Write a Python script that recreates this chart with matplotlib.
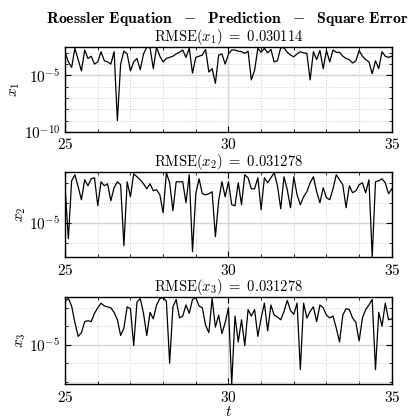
import numpy as np
import matplotlib
matplotlib.use("Agg")
import matplotlib.pyplot as plt
from matplotlib.ticker import FixedLocator, FixedFormatter, NullFormatter

plt.rcParams["font.family"] = "serif"
plt.rcParams["font.serif"] = ["cmr10"]
plt.rcParams["mathtext.fontset"] = "cm"
plt.rcParams["axes.unicode_minus"] = False

# time axis
t = np.linspace(25, 35, 101)

# log10 of the square error
log_err_x1 = [
    -2.95, -3.8, -4.3, -2.6, -3.6, -4.6, -2.75, -3.5, -3.3, -4.0,
    -3.8, -2.9, -3.7, -3.8, -4.0, -2.9, -9.0, -4.0, -2.85, -3.1,
    -4.6, -3.8, -3.5, -4.5, -3.1, -2.5, -2.55, -4.4, -2.5, -3.3,
    -3.8, -3.5, -3.4, -3.3, -3.1, -2.95, -2.75, -3.4, -2.6, -4.8,
    -3.4, -3.3, -3.2, -2.7, -4.7, -4.4, -5.7, -3.2, -3.1, -4.0,
    -3.1, -2.75, -2.75, -2.85, -2.9, -3.05, -2.85, -5.4, -4.55, -2.6,
    -2.95, -2.6, -3.0, -2.7, -3.8, -3.7, -2.55, -2.55, -2.95, -3.2,
    -3.35, -3.1, -2.9, -3.0, -3.05, -5.4, -2.9, -3.6, -2.8, -4.4,
    -2.8, -3.8, -2.75, -2.95, -2.95, -3.3, -3.5, -3.6, -3.9, -3.7,
    -2.8, -3.3, -3.6, -3.8, -4.85, -3.7, -4.4, -2.9, -3.3, -3.4,
    -3.3,
]
log_err_x2 = [
    -3.25, -5.8, -2.9, -2.6, -3.2, -3.85, -2.85, -3.15, -2.8, -2.75,
    -4.15, -2.95, -3.15, -3.05, -3.9, -3.25, -2.95, -3.1, -6.15, -2.95,
    -3.7, -2.55, -2.7, -2.85, -3.05, -3.3, -3.05, -3.4, -3.35, -3.6,
    -4.5, -2.5, -3.0, -4.4, -2.95, -2.95, -2.95, -4.0, -2.6, -6.45,
    -3.55, -2.8, -3.55, -3.6, -3.55, -3.45, -5.7, -3.9, -2.95, -3.7,
    -2.95, -4.1, -4.15, -3.0, -4.1, -2.6, -2.75, -3.3, -3.3, -2.75,
    -4.35, -2.75, -3.0, -2.75, -2.5, -3.15, -4.3, -2.7, -3.35, -4.25,
    -2.7, -3.6, -4.1, -3.7, -3.45, -3.0, -2.7, -3.45, -4.0, -3.25,
    -3.75, -3.85, -3.3, -2.6, -2.85, -3.1, -4.25, -3.15, -3.5, -3.4,
    -3.1, -3.0, -3.5, -2.85, -6.72, -2.95, -2.9, -2.8, -3.0, -3.55,
    -3.3,
]
log_err_x3 = [
    -2.65, -2.5, -2.9, -3.8, -4.55, -4.35, -3.75, -3.7, -3.75, -3.3,
    -3.0, -2.75, -2.9, -2.95, -3.0, -3.25, -3.65, -4.5, -4.1, -2.95,
    -3.05, -5.05, -2.7, -2.5, -3.3, -4.5, -3.25, -3.6, -2.85, -2.5,
    -2.45, -2.65, -6.0, -2.95, -2.55, -3.55, -3.45, -2.85, -3.3, -2.55,
    -2.45, -2.9, -3.0, -3.95, -4.35, -2.5, -4.05, -3.4, -4.4, -3.8,
    -3.0, -7.13, -3.45, -4.85, -3.65, -5.05, -3.1, -3.45, -3.1, -4.55,
    -3.55, -2.75, -4.25, -2.85, -3.4, -3.5, -3.65, -3.2, -2.6, -3.15,
    -3.35, -2.75, -6.35, -2.75, -3.55, -3.2, -2.95, -3.75, -2.85, -3.0,
    -3.4, -3.55, -3.45, -4.1, -4.85, -3.4, -3.05, -3.1, -3.55, -3.8,
    -4.8, -3.55, -3.1, -2.85, -2.55, -6.35, -3.25, -4.0, -2.75, -3.65,
    -3.6,
]

series = [log_err_x1, log_err_x2, log_err_x3]
names = ["x_1", "x_2", "x_3"]
rmse = ["0.030114", "0.031278", "0.031278"]
ylims = [(1e-10, 10 ** -2.45), (10 ** -6.72, 10 ** -2.47), (10 ** -7.13, 10 ** -2.42)]
major_y = [[1e-10, 1e-5], [1e-5], [1e-5]]
major_lbl = [[r"$10^{-10}$", r"$10^{-5}$"], [r"$10^{-5}$"], [r"$10^{-5}$"]]

fig = plt.figure(figsize=(4.12, 4.2), dpi=100)
boxes = [(0.158, 0.686, 0.793, 0.203),
         (0.158, 0.388, 0.793, 0.202),
         (0.158, 0.0857, 0.793, 0.207)]

for k in range(3):
    ax = fig.add_axes(boxes[k])
    ax.plot(t, 10.0 ** np.array(series[k]), color="black", lw=0.9)
    ax.set_yscale("log")
    ax.set_xlim(25, 35)
    ax.set_ylim(*ylims[k])
    ax.xaxis.set_major_locator(FixedLocator([25, 30, 35]))
    ax.xaxis.set_minor_locator(FixedLocator(np.arange(25, 36, 1)))
    ax.yaxis.set_major_locator(FixedLocator(major_y[k]))
    ax.yaxis.set_major_formatter(FixedFormatter(major_lbl[k]))
    ax.yaxis.set_minor_locator(FixedLocator([10.0 ** e for e in range(-10, -1)]))
    ax.yaxis.set_minor_formatter(NullFormatter())
    ax.xaxis.set_major_formatter(FixedFormatter([r"$25$", r"$30$", r"$35$"]))
    ax.tick_params(which="both", direction="in", top=True, right=True, labelsize=11)
    ax.tick_params(which="major", length=4, width=0.8)
    ax.tick_params(which="minor", length=2, width=0.6)
    ax.tick_params(axis="x", which="major", pad=4)
    ax.grid(which="major", color="#d4d4d4", lw=1.0, ls="-")
    ax.grid(which="minor", color="#cccccc", lw=0.7, ls=":")
    ax.set_axisbelow(True)
    for s in ax.spines.values():
        s.set_linewidth(1.0)
    ax.set_ylabel(r"$%s$" % names[k], fontsize=11, labelpad=1)
    ax.set_title(r"$\mathrm{RMSE}(%s)\ =\ %s$" % (names[k], rmse[k]), fontsize=10.5, pad=3)
    if k == 2:
        ax.set_xlabel(r"$t$", fontsize=11, labelpad=0)

fig.suptitle(r"$\mathbf{Roessler\ Equation}\ \ -\ \ \mathbf{Prediction}\ \ -\ \ \mathbf{Square\ Error}$",
             x=0.553, y=0.975, va="top", fontsize=11.4)

fig.savefig("out.png", dpi=100)
